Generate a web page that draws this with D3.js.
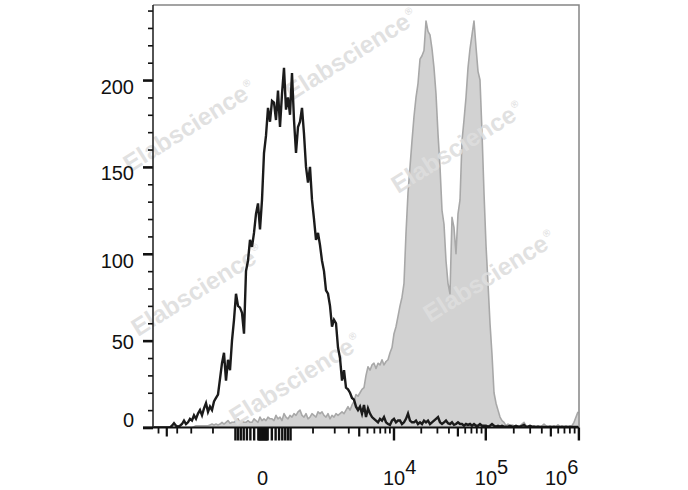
<!DOCTYPE html>
<html><head><meta charset="utf-8">
<script src="https://cdn.jsdelivr.net/npm/d3@7"></script>
<style>body{margin:0;background:#fff}svg{display:block}</style>
</head><body>
<svg id="chart" width="688" height="490"></svg>
<script>
// ---- data: histogram counts per display channel (213 channels, left to right) ----
const controlCounts = [
0,0,0,0,0,0,0,0,0,1,
2.5,1,0.5,1,2,4,2,3,5,4,
7,5,8,10,7,11,14,9,12,10,
15,17,19,28,37,43,27,39,33,50,
62,77,70,69,66,54,90,96,108,104,
112,123,129,114,131,158,168,184,176,188,
187,177,194,173,192,207,183,190,180,204,
177,158,173,176,184,169,150,141,150,131,
120,108,112,105,96,90,79,77,70,58,
62,60,46,40,27,33,23,22,20,17,
16,12,10,12,8,13,6,11,8,6,
5,4,3,5,4,6,3,2,1.5,4,
5,3,4,4,2,3,5,8,4,3,
3,4,2,3,2,4,3,4,2,3,
4,5,6,3,2,3,4,2.5,2,3,
1.5,2,3,2,2,1,2,1.5,2,1,
2,1,1,2,1,1,1,0.5,1,2,
1,0.5,1,0.5,1,0.5,0.5,0.5,1,0.5,
0.5,1,0.5,0.5,1,1.5,0.5,0.5,1,0.5,
0.5,0.3,0.5,0.3,0.3,0.3,0.3,0.3,0.3,0.3,
0.3,0.3,0.3,0.3,0.3,0.3,0.3,0.3,0.3,0.3,
0.3,0.3,0.3
];
const stainedCounts = [
0,0,0,0,0,0,0,0,0,0,
0,0,0,0,0,0,0,0,0,0,
0.5,1,1,1,1,1,1,1,1.5,2,
1.5,2,1.5,2,3,2,3,4,2.5,3,
3,4,5,3,4,3,3,4,3,3,
5,4,3,6,4,5,4,6,5,5,
4,7,5,6,4,8,6,5,7,6,
8,7,9,10,7,6,8,5,6,8,
7,6,9,8,9,7,6,8,5,7,
6,8,7,8,9,8,10,12,10,13,
15,19,18,20,22,23,30,35,33,36,
37,34,37,36,39,36,38,39,43,46,
54,58,64,70,75,83,112,135,150,165,
179,190,198,212,214,217,234,228,226,218,
207,192,169,150,125,117,96,83,77,121,
115,100,123,131,165,177,190,207,218,226,
234,219,205,200,170,135,105,83,60,42,
20,14,10,6,4,3,1,2,1,1.5,
1,0.5,1,1,2,3,1,0.5,1,0.5,
1,0.5,1,0.5,1,2,1,0.5,1,0.5,
1,0.5,1.5,0.5,1,0.5,1,0.5,1,1,
3,6,9
];
const yMajorTicks = [0, 50, 100, 150, 200];
const yMinorTicks = [10,20,30,40,60,70,80,90,110,120,130,140,160,170,180,190,210,220,230,240];
const xMajorTicks = [0, 1e4, 1e5, 1e6,
  -400,-350,-300,-250,-200,-150,-100,-50,-40,-30,-20,-10,
  10,20,30,40,50,100,150,200,250,300,350,400];
const xMediumTicks = [-4000, 4000, 5e4, 5e5];
const xMinorTicks = [-5000,-3000,-2000,-1000,1000,2000,3000,5000,6000,7000,8000,9000,
  2e4,3e4,4e4,6e4,7e4,8e4,9e4,2e5,3e5,4e5,6e5,7e5,8e5,9e5];
const xLabelValues = [0, 1e4, 1e5, 1e6];
const xLabelBase = ["0", "10", "10", "10"];
const xLabelExp = ["", "4", "5", "6"];
const watermarkText = "Elabscience";

// ---- layout ----
const L = 153, R = 579, T = 5, B = 427.5;
const yLabelNudge = [-8, 1, 7, 6, 6];
const watermarkAnchors = [[130,173],[138,337],[292,101],[398,194],[430,323],[236,426]];
const FONT = "'Liberation Sans', Arial, Helvetica, sans-serif";

const svg = d3.select("#chart");
const N = controlCounts.length;
const xCh = d3.scaleLinear().domain([0, N - 1]).range([L + 1, R - 1]);
const x = d3.scaleSymlog().constant(410).domain([-5713, 1015100]).range([L, R]);
const y = d3.scaleLinear().domain([0, 243.2]).range([B, T]);

svg.append("defs").append("clipPath").attr("id", "plotClip")
  .append("rect").attr("x", L).attr("y", T).attr("width", R - L).attr("height", B - T);

const plot = svg.append("g").attr("clip-path", "url(#plotClip)");

// stained histogram (filled gray)
plot.append("path").datum(stainedCounts)
  .attr("d", d3.area().x((d, i) => xCh(i)).y0(y(0)).y1(d => y(d)))
  .attr("fill", "#d2d2d2");
plot.append("path").datum(stainedCounts)
  .attr("d", d3.line().x((d, i) => xCh(i)).y(d => y(d)))
  .attr("fill", "none").attr("stroke", "#a8a8a8").attr("stroke-width", 1.6)
  .attr("stroke-linejoin", "round");

// watermarks
const wm = svg.append("g");
watermarkAnchors.forEach(([ax, ay]) => {
  const t = wm.append("text")
    .attr("transform", `translate(${ax},${ay}) rotate(-32)`)
    .attr("font-family", FONT).attr("font-weight", "bold").attr("font-size", 24.5)
    .attr("fill", "#dedede").attr("fill-opacity", 0.92).text(watermarkText);
  t.append("tspan").attr("font-size", 10).attr("dy", -11).attr("dx", 1).text("®");
});

// control histogram (black line), above watermarks
const plotTop = svg.append("g").attr("clip-path", "url(#plotClip)");
plotTop.append("path").datum(controlCounts)
  .attr("d", d3.line().x((d, i) => xCh(i)).y(d => y(d)))
  .attr("fill", "none").attr("stroke", "#1b1b1b").attr("stroke-width", 2.4)
  .attr("stroke-linejoin", "miter");

// frame (top & right)
svg.append("path").attr("d", `M${L},${T}H${R}V${B}`)
  .attr("fill", "none").attr("stroke", "#858585").attr("stroke-width", 1.5);

// y axis
const yMaj = svg.append("g").attr("transform", `translate(${L},0)`)
  .call(d3.axisLeft(y).tickValues(yMajorTicks).tickSize(10).tickPadding(9).tickFormat(d3.format("d")));
const yMin = svg.append("g").attr("transform", `translate(${L},0)`)
  .call(d3.axisLeft(y).tickValues(yMinorTicks).tickSize(5).tickFormat(""));
[yMaj, yMin].forEach(g => g.select(".domain").remove());
yMaj.selectAll(".tick line").attr("stroke", "#111").attr("stroke-width", 2.6);
yMin.selectAll(".tick line").attr("stroke", "#111").attr("stroke-width", 1.6);
yMaj.selectAll(".tick text")
  .attr("font-family", FONT).attr("font-size", 20).attr("fill", "#111")
  .attr("dy", "0.35em")
  .attr("transform", (d, i) => `translate(0,${yLabelNudge[i]})`);

// x axis ticks
const xGroups = [
  [xMajorTicks, 13, 2.4],
  [xMediumTicks, 9, 2.2],
  [xMinorTicks, 6, 1.8]
];
xGroups.forEach(([vals, len, w]) => {
  const g = svg.append("g").attr("transform", `translate(0,${B})`)
    .call(d3.axisBottom(x).tickValues(vals).tickSize(len).tickFormat(""));
  g.select(".domain").remove();
  g.selectAll(".tick line").attr("stroke", "#111").attr("stroke-width", w);
});

// axis lines
svg.append("line").attr("x1", L).attr("x2", L).attr("y1", T).attr("y2", B)
  .attr("stroke", "#1a1a1a").attr("stroke-width", 1.5);
svg.append("line").attr("x1", L - 10).attr("x2", R).attr("y1", B).attr("y2", B)
  .attr("stroke", "#111").attr("stroke-width", 2.2);

// x labels
const xl = svg.append("g").attr("font-family", FONT).attr("font-size", 20).attr("fill", "#111");
xLabelValues.forEach((v, i) => {
  const px = x(v);
  if (!xLabelExp[i]) {
    xl.append("text").attr("x", px).attr("y", 485).attr("text-anchor", "middle").text(xLabelBase[i]);
  } else {
    const start = Math.min(px - 10.5, R - 34);
    const t = xl.append("text").attr("x", start).attr("y", 485).text(xLabelBase[i]);
    t.append("tspan").attr("dy", -11.5).text(xLabelExp[i]);
  }
});
</script>
</body></html>
